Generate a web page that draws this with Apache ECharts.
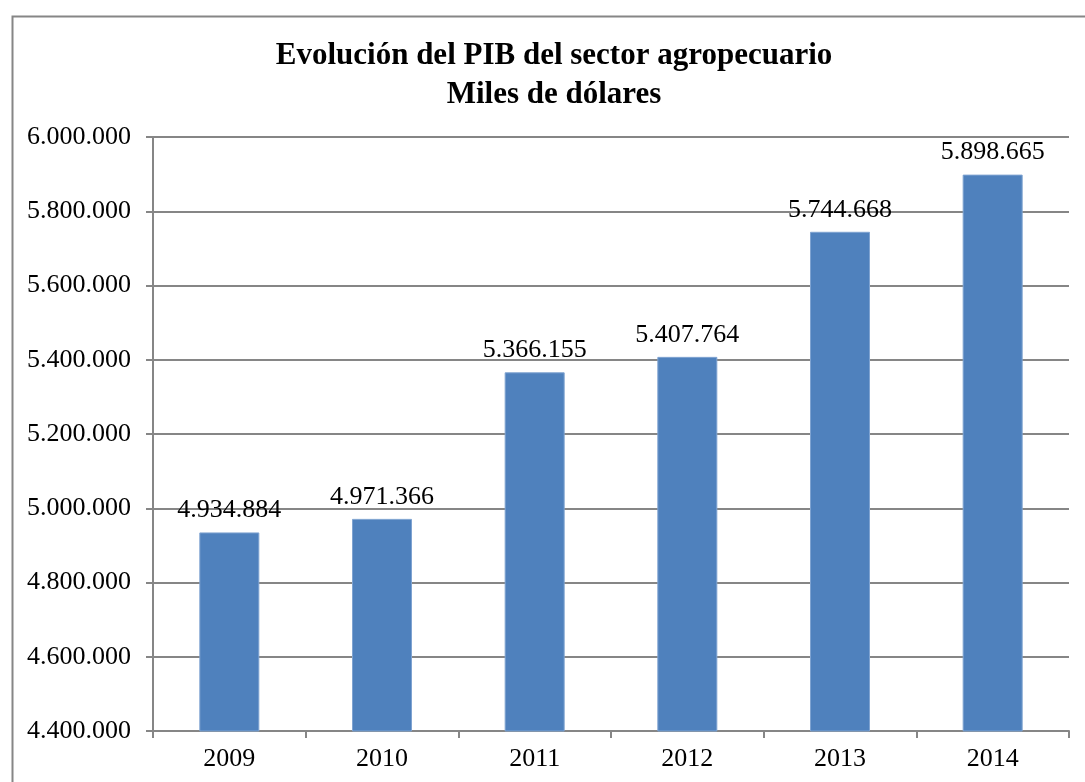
<!DOCTYPE html>
<html>
<head>
<meta charset="utf-8">
<script src="https://cdn.jsdelivr.net/npm/echarts@6/dist/echarts.min.js"></script>
<style>
  html, body { margin: 0; padding: 0; background: #fff; }
  #chart { width: 1085px; height: 782px; }
</style>
</head>
<body>
<div id="chart"></div>
<script>
  let years = ['2009', '2010', '2011', '2012', '2013', '2014']
  let pib = [4934884, 4971366, 5366155, 5407764, 5744668, 5898665]
  let yMin = 4400000
  let yMax = 6000000
  let yStep = 200000

  // 5898665 -> 5.898.665
  function fmt (v) {
    return String(Math.round(v)).replace(/\B(?=(\d{3})+(?!\d))/g, '.')
  }

  let font = '"Liberation Serif", "Times New Roman", serif'
  let gray = '#868686'

  let myChart = echarts.init(document.getElementById('chart'))
  let option = {
    backgroundColor: '#fff',
    animation: false,
    textStyle: { fontFamily: font },
    graphic: [{
      type: 'rect',
      left: 10,
      top: 14,
      shape: { width: 1200, height: 900 },
      style: { fill: 'none', stroke: gray, lineWidth: 2 },
      silent: true
    }],
    title: {
      text: 'Evolución del PIB del sector agropecuario\nMiles de dólares',
      left: 549,
      textAlign: 'center',
      top: 31,
      textStyle: {
        fontFamily: font,
        fontSize: 31,
        fontWeight: 'bold',
        color: '#000',
        lineHeight: 39
      }
    },
    grid: {
      left: 153,
      right: 16,
      top: 137,
      bottom: 51,
      containLabel: false
    },
    xAxis: {
      type: 'category',
      data: years,
      axisLine: { lineStyle: { color: gray, width: 2 } },
      axisTick: { show: true, length: 7, lineStyle: { color: gray, width: 2 } },
      axisLabel: { color: '#000', fontSize: 26, margin: 15, fontFamily: font }
    },
    yAxis: {
      type: 'value',
      min: yMin,
      max: yMax,
      interval: yStep,
      axisLine: { show: true, lineStyle: { color: gray, width: 2 } },
      axisTick: { show: true, length: 7, lineStyle: { color: gray, width: 2 } },
      splitLine: { lineStyle: { color: gray, width: 2 } },
      axisLabel: {
        color: '#000',
        fontSize: 26,
        margin: 22,
        fontFamily: font,
        formatter: fmt
      }
    },
    series: [{
      type: 'bar',
      data: pib,
      barWidth: 60,
      itemStyle: { color: '#4F81BD', borderColor: '#7FA3D1', borderWidth: 1 },
      label: {
        show: true,
        position: 'top',
        distance: 9,
        color: '#000',
        fontSize: 26,
        fontFamily: font,
        formatter: function (p) { return fmt(p.value) }
      }
    }]
  }
  myChart.setOption(option)
</script>
</body>
</html>
